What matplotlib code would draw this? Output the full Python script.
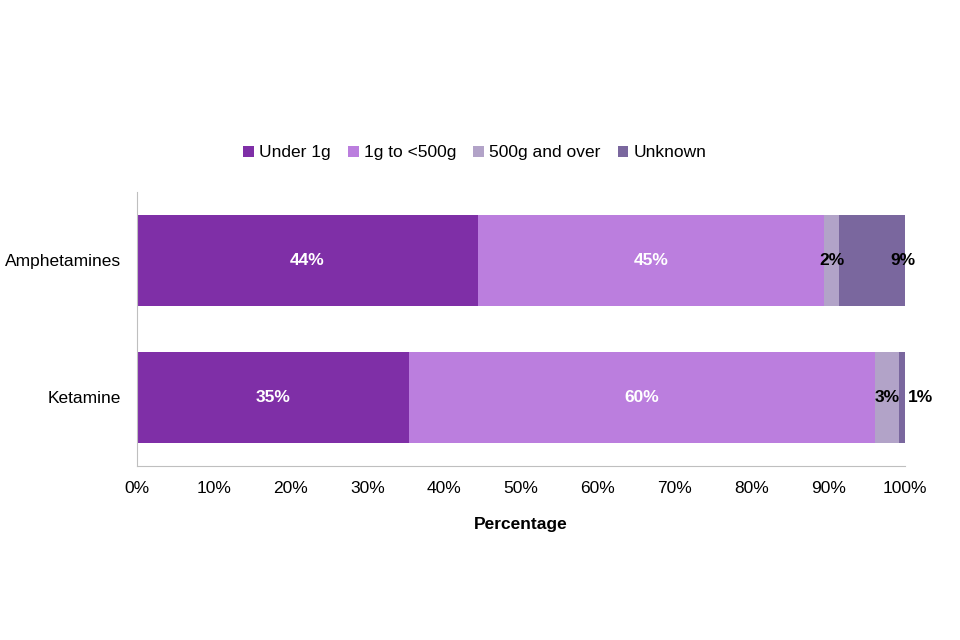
import numpy as np
import matplotlib.pyplot as plt

plt.rcParams['font.family'] = ['Liberation Sans', 'DejaVu Sans']

drugs = ['Ketamine', 'Amphetamines']
series = ['Under 1g', '1g to <500g', '500g and over', 'Unknown']
under_1g = [35.4, 44.4]
g1_to_500 = [60.7, 45.1]
over_500g = [3.1, 1.95]
unknown = [0.8, 8.55]
labels = [['35%', '44%'], ['60%', '45%'], ['3%', '2%'], ['1%', '9%']]
colors = ['#7F2FA7', '#BB7EDE', '#B2A3C8', '#7A679E']
label_colors = ['white', 'white', 'black', 'black']

values = [under_1g, g1_to_500, over_500g, unknown]

fig = plt.figure(figsize=(9.6, 6.4), dpi=100)
ax = fig.add_axes([0.1427, 0.272, 0.8, 0.428])

y = np.arange(len(drugs))
left = np.zeros(len(drugs))
for i, name in enumerate(series):
    vals = np.array(values[i])
    ax.barh(y, vals, left=left, height=0.66, color=colors[i], label=name)
    for j in range(len(drugs)):
        xpos = left[j] + vals[j] / 2
        if i == 3:
            # last small segment: Excel puts label at/after bar end
            xpos = left[j] + vals[j] + 2.0 if vals[j] < 3 else left[j] + vals[j] - 0.3
        ax.text(xpos, y[j], labels[i][j], ha='center', va='center',
                color=label_colors[i], fontsize=12.5, fontweight='bold')
    left += vals

ax.set_xlim(0, 100)
ax.set_ylim(-0.5, 1.5)
ax.set_xticks(np.arange(0, 101, 10))
ax.set_xticklabels([f'{t}%' for t in range(0, 101, 10)])
ax.set_yticks(y)
ax.set_yticklabels(drugs)
ax.tick_params(axis='both', length=0, labelsize=12.5)
ax.tick_params(axis='x', pad=11)
ax.tick_params(axis='y', pad=11.5)
for s in ['top', 'right']:
    ax.spines[s].set_visible(False)
for s in ['left', 'bottom']:
    ax.spines[s].set_color('#BFBFBF')
ax.set_xlabel('Percentage', fontsize=12.5, fontweight='bold', labelpad=15)

ax.legend(loc='center', bbox_to_anchor=(0.44, 1.143), ncol=4, frameon=False,
          fontsize=12.5, handlelength=0.6, handleheight=0.6, handletextpad=0.3,
          columnspacing=1.0)

fig.savefig('out.png', dpi=100)
